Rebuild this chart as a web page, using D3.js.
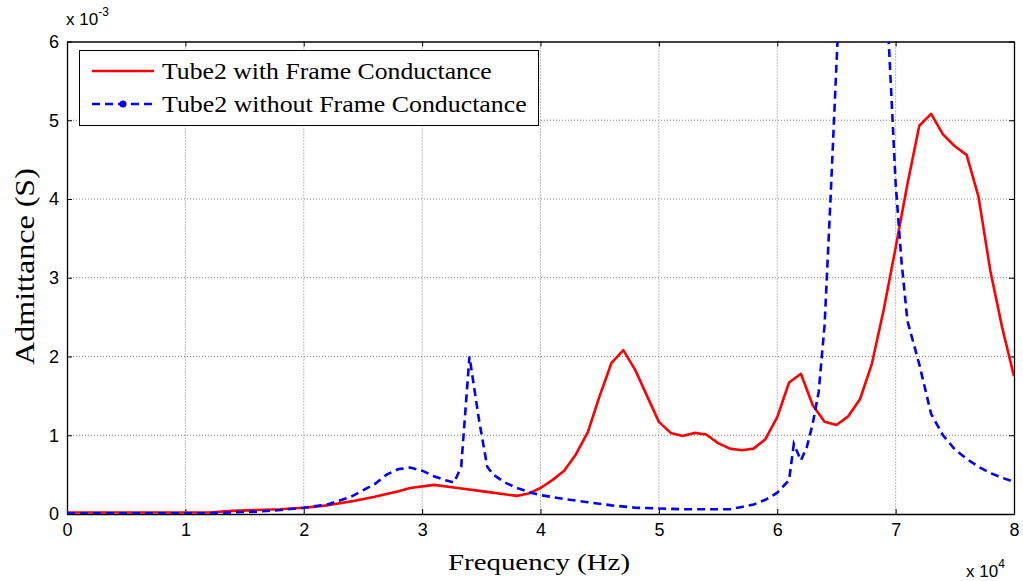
<!DOCTYPE html>
<html><head><meta charset="utf-8">
<script src="https://cdn.jsdelivr.net/npm/d3@7"></script>
<style>body{margin:0;background:#fff;} svg{display:block;}</style>
</head><body>
<svg id="c" width="1023" height="581"></svg>
<script>
// Data (frequency in x10^4 Hz, admittance in x10^-3 S)
const redX = [0,0.5,1.0,1.2,1.4,1.6,1.8,2.0,2.2,2.4,2.6,2.8,2.9,3.1,3.3,3.5,3.8,3.9,4.0,4.1,4.2,4.3,4.4,4.5,4.6,4.7,4.8,4.9,5.0,5.1,5.2,5.3,5.4,5.5,5.6,5.7,5.8,5.9,6.0,6.1,6.2,6.3,6.4,6.5,6.6,6.7,6.8,6.9,7.0,7.1,7.2,7.3,7.4,7.5,7.6,7.7,7.8,7.9,8.0];
const redY = [0.02,0.02,0.02,0.02,0.04,0.05,0.06,0.08,0.11,0.16,0.22,0.29,0.33,0.37,0.33,0.29,0.23,0.26,0.33,0.43,0.55,0.76,1.04,1.5,1.92,2.08,1.83,1.5,1.17,1.03,0.99,1.03,1.01,0.9,0.83,0.81,0.83,0.95,1.23,1.67,1.78,1.38,1.17,1.13,1.24,1.46,1.91,2.6,3.38,4.19,4.93,5.08,4.82,4.67,4.56,4.03,3.09,2.37,1.75];
const blueX = [0,0.5,1.0,1.2,1.4,1.6,1.8,2.0,2.2,2.4,2.5,2.6,2.7,2.8,2.9,3.0,3.1,3.2,3.27,3.33,3.4,3.48,3.55,3.6,3.7,3.8,3.9,4.0,4.2,4.4,4.6,4.8,5.0,5.2,5.4,5.6,5.7,5.8,5.9,6.0,6.1,6.14,6.2,6.25,6.3,6.35,6.4,6.45,6.5,6.6,6.7,6.8,6.9,7.0,7.05,7.1,7.2,7.3,7.4,7.5,7.6,7.7,7.8,7.9,8.0];
const blueY = [0.01,0.01,0.01,0.01,0.02,0.03,0.05,0.08,0.12,0.22,0.3,0.38,0.5,0.57,0.59,0.55,0.48,0.43,0.4,0.6,2.0,1.2,0.6,0.5,0.4,0.33,0.28,0.24,0.19,0.15,0.11,0.08,0.07,0.06,0.06,0.06,0.09,0.12,0.18,0.27,0.43,0.89,0.68,0.85,1.15,1.55,2.4,4.0,5.7,9,14,11,7.3,4.2,3.2,2.45,1.9,1.27,1.0,0.82,0.7,0.6,0.52,0.46,0.41];
const xTicks = [0,1,2,3,4,5,6,7,8];
const yTicks = [0,1,2,3,4,5,6];
const seriesNames = ["Tube2 with Frame Conductance","Tube2 without Frame Conductance"];

const svg = d3.select("#c");
const L=67, R=1014, T=41.5, B=514;
const x = d3.scaleLinear().domain([0,8]).range([L,R]);
const y = d3.scaleLinear().domain([0,6]).range([B,T]);
const tickFont = "'Liberation Sans',Arial,sans-serif";
const serif = "'Liberation Serif','Times New Roman',serif";

// grid
const grid = svg.append("g");
grid.selectAll(".gx").data(xTicks.slice(1,-1)).join("line")
  .attr("x1",d=>x(d)).attr("x2",d=>x(d)).attr("y1",T).attr("y2",B)
  .attr("stroke","#808080").attr("stroke-width",1).attr("stroke-dasharray","1,2");
grid.selectAll(".gy").data(yTicks.slice(1,-1)).join("line")
  .attr("y1",d=>y(d)).attr("y2",d=>y(d)).attr("x1",L).attr("x2",R)
  .attr("stroke","#808080").attr("stroke-width",1).attr("stroke-dasharray","1,2");

// axes
const xb = svg.append("g").attr("transform",`translate(0,${B})`)
  .call(d3.axisBottom(x).tickValues(xTicks).tickSizeInner(-5).tickSizeOuter(0).tickPadding(9).tickFormat(d3.format("d")));
const xt = svg.append("g").attr("transform",`translate(0,${T})`)
  .call(d3.axisTop(x).tickValues(xTicks).tickSizeInner(-5).tickSizeOuter(0).tickFormat(""));
const yl = svg.append("g").attr("transform",`translate(${L},0)`)
  .call(d3.axisLeft(y).tickValues(yTicks).tickSizeInner(-5).tickSizeOuter(0).tickPadding(8).tickFormat(d3.format("d")));
const yr = svg.append("g").attr("transform",`translate(${R},0)`)
  .call(d3.axisRight(y).tickValues(yTicks).tickSizeInner(-5).tickSizeOuter(0).tickFormat(""));
[xb,xt,yl,yr].forEach(g=>{
  g.select(".domain").attr("stroke","#000").attr("stroke-width",1.3);
  g.selectAll(".tick line").attr("stroke","#000");
  g.selectAll("text").attr("font-family",tickFont).attr("font-size",18).attr("fill","#000");
});

// lines
svg.append("clipPath").attr("id","clip").append("rect").attr("x",L).attr("y",T).attr("width",R-L).attr("height",B-T);
const line = d3.line().x(d=>x(d[0])).y(d=>y(d[1]));
const plot = svg.append("g").attr("clip-path","url(#clip)");
plot.append("path").datum(redX.map((v,i)=>[v,redY[i]]))
  .attr("d",line).attr("fill","none").attr("stroke","#ff0000").attr("stroke-width",2.6).attr("stroke-linejoin","round");
plot.append("path").datum(blueX.map((v,i)=>[v,blueY[i]]))
  .attr("d",line).attr("fill","none").attr("stroke","#0000ff").attr("stroke-width",2.6).attr("stroke-dasharray","8,5");

// multipliers
svg.append("text").attr("x",66).attr("y",25).attr("font-family",tickFont).attr("font-size",17).text("x 10")
  .append("tspan").attr("dy",-9).attr("font-size",12).text("-3");
svg.append("text").attr("x",966).attr("y",577).attr("font-family",tickFont).attr("font-size",17).text("x 10")
  .append("tspan").attr("dy",-9).attr("font-size",12).text("4");

// stretched text helper: left-anchored text stretched horizontally to a target width
function stretched(parent, txt, size, width, anchor){
  const g = parent.append("g");
  const t = g.append("text").attr("font-family",serif).attr("font-size",size).attr("fill","#000").text(txt);
  const w = t.node().getComputedTextLength();
  const s = width / w;
  t.attr("transform",`scale(${s},1)`);
  if (anchor==="middle") t.attr("x",-w/2);
  return g;
}
// axis titles
stretched(svg,"Frequency (Hz)",24,182,"middle").attr("transform","translate(539,569.5)");
stretched(svg,"Admittance (S)",27,197,"middle").attr("transform","translate(34,266.5) rotate(-90)");

// legend
const lg = svg.append("g");
lg.append("rect").attr("x",79.5).attr("y",50.5).attr("width",459).attr("height",75).attr("fill","#fff").attr("stroke","#000").attr("stroke-width",1);
const ly = [71,104];
const tl = [330,365];
lg.append("line").attr("x1",92).attr("x2",154).attr("y1",ly[0]).attr("y2",ly[0]).attr("stroke","#ff0000").attr("stroke-width",2.6);
lg.append("line").attr("x1",92).attr("x2",154).attr("y1",ly[1]).attr("y2",ly[1]).attr("stroke","#0000ff").attr("stroke-width",2.6).attr("stroke-dasharray","8,5");
lg.append("circle").attr("cx",123).attr("cy",ly[1]).attr("r",3.5).attr("fill","#0000ff");
seriesNames.forEach((n,i)=>{
  stretched(lg,n,23,tl[i],"start").attr("transform",`translate(162,${ly[i]+7.5})`);
});
</script>
</body></html>
